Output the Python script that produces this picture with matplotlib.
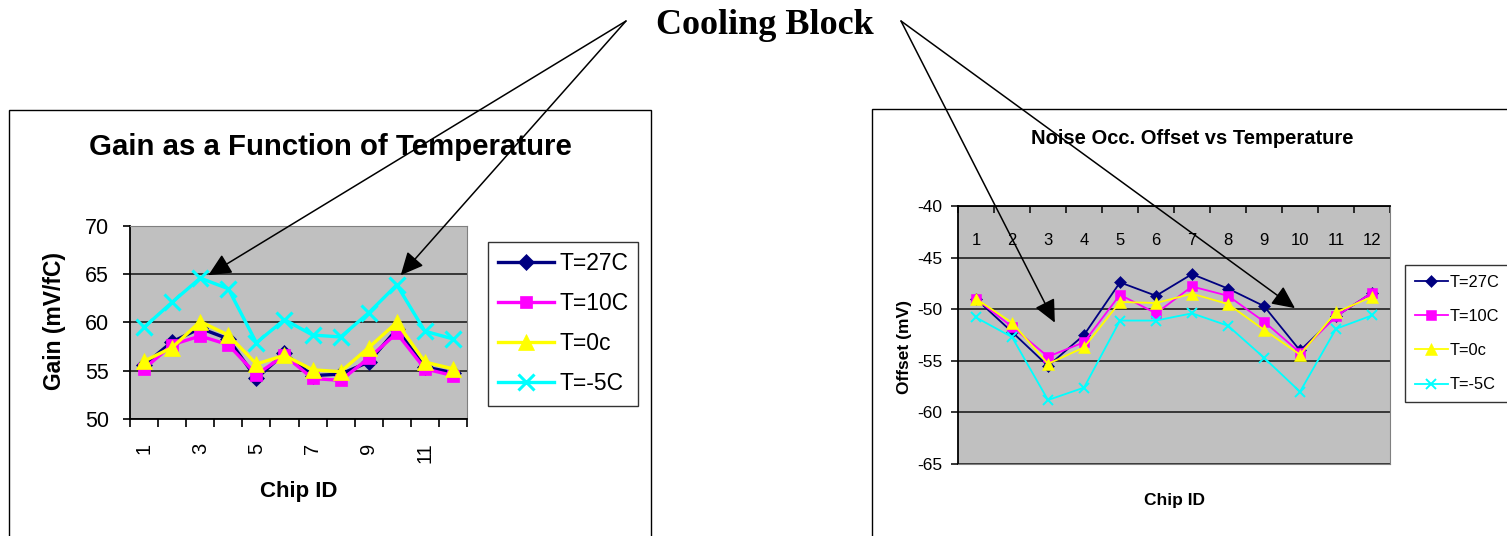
import matplotlib
matplotlib.use("Agg")
import matplotlib.pyplot as plt
from matplotlib.patches import Rectangle
from matplotlib.ticker import FixedLocator

plt.rcParams["axes.unicode_minus"] = False

# ---------------- data ----------------
chip_ids = ["1", "2", "3", "4", "5", "6", "7", "8", "9", "10", "11", "12"]
series_labels = ["T=27C", "T=10C", "T=0c", "T=-5C"]

gain_27 = [55.6, 58.0, 59.4, 58.3, 54.2, 56.8, 54.5, 54.65, 55.9, 59.3, 55.4, 54.8]
gain_10 = [55.2, 57.7, 58.6, 57.7, 54.6, 56.6, 54.2, 54.0, 56.3, 58.9, 55.2, 54.5]
gain_0 = [56.0, 57.4, 60.1, 58.7, 55.7, 56.6, 55.1, 54.9, 57.4, 60.0, 55.9, 55.2]
gain_m5 = [59.5, 62.1, 64.6, 63.5, 57.9, 60.3, 58.7, 58.5, 61.0, 63.9, 59.1, 58.3]

offset_27 = [-49.0, -52.2, -55.5, -52.5, -47.4, -48.7, -46.6, -48.0, -49.7, -54.0, -50.7, -48.4]
offset_10 = [-49.0, -51.7, -54.6, -53.2, -48.6, -50.4, -47.8, -48.7, -51.2, -54.2, -50.7, -48.4]
offset_0 = [-49.0, -51.3, -55.3, -53.7, -49.3, -49.4, -48.5, -49.5, -52.0, -54.4, -50.3, -48.8]
offset_m5 = [-50.8, -52.7, -58.8, -57.6, -51.1, -51.1, -50.4, -51.6, -54.7, -58.0, -51.9, -50.6]

gain_ticks = [50, 55, 60, 65, 70]
offset_ticks = [-65, -60, -55, -50, -45, -40]

# ---------------- styles ----------------
colors = ["#000080", "#FF00FF", "#FFFF00", "#00FFFF"]
markers = ["D", "s", "^", "x"]
SANS = ["Liberation Sans", "DejaVu Sans"]
SERIF = ["Liberation Serif", "DejaVu Serif"]
PLOT_BG = "#C0C0C0"

W, H = 1507, 536
fig = plt.figure(figsize=(W / 100, H / 100), dpi=100)
fig.patch.set_facecolor("white")


def fx(px):
    return px / W


def fy(py):
    return 1 - py / H


def axes_rect(x0, y0, x1, y1):
    return [fx(x0), fy(y1), (x1 - x0) / W, (y1 - y0) / H]


n = len(chip_ids)
xs = list(range(n))

# ---------------- outer chart frames ----------------
fig.add_artist(Rectangle((fx(9), fy(545)), (651 - 9) / W, (545 - 110) / H,
                         transform=fig.transFigure, fill=False,
                         edgecolor="black", lw=1.0))
fig.add_artist(Rectangle((fx(872), fy(545)), (1530 - 872) / W, (545 - 109) / H,
                         transform=fig.transFigure, fill=False,
                         edgecolor="black", lw=1.0))

# ================= LEFT CHART =================
axL = fig.add_axes(axes_rect(130, 226, 467, 419))
axL.set_facecolor(PLOT_BG)
gain_series = [gain_27, gain_10, gain_0, gain_m5]
msizes_L = [8, 9, 11, 11]
for vals, c, m, ms, lab in zip(gain_series, colors, markers, msizes_L, series_labels):
    axL.plot(xs, vals, color=c, marker=m, markersize=ms, lw=2.4,
             markeredgewidth=2.2 if m == "x" else 0.5,
             markeredgecolor=c, label=lab)
axL.set_xlim(-0.5, n - 0.5)
axL.set_ylim(50, 70)
axL.set_yticks(gain_ticks)
axL.yaxis.grid(True, color="#202020", lw=1.2)
axL.set_axisbelow(True)
axL.set_xticks(xs[::2])
axL.set_xticklabels(chip_ids[::2], rotation=90, family=SANS, fontsize=14.5)
axL.xaxis.set_minor_locator(FixedLocator([i - 0.5 for i in range(n + 1)]))
axL.tick_params(axis="x", which="major", length=0, pad=17)
axL.tick_params(axis="x", which="minor", length=6, width=1.2, direction="out")
axL.tick_params(axis="y", which="major", length=5, width=1.2, direction="out",
                pad=10, labelsize=15.5)
for t in axL.get_yticklabels():
    t.set_family(SANS)
axL.spines["left"].set_color("black")
axL.spines["bottom"].set_color("black")
axL.spines["left"].set_linewidth(1.3)
axL.spines["bottom"].set_linewidth(1.3)
axL.spines["top"].set_color("#808080")
axL.spines["right"].set_color("#808080")

legL = axL.legend(loc="upper left", bbox_to_anchor=(fx(488), fy(242)),
                  bbox_transform=fig.transFigure, frameon=True, fancybox=False,
                  edgecolor="black", borderaxespad=0, borderpad=0.45,
                  labelspacing=0.74, handlelength=2.45, handletextpad=0.2,
                  numpoints=1, prop={"family": SANS, "size": 16.5})
legL.get_frame().set_linewidth(1.0)

fig.text(fx(330), fy(147), "Gain as a Function of Temperature", ha="center",
         va="center", family=SANS, weight="bold", fontsize=21.2)
fig.text(fx(54), fy(321), "Gain (mV/fC)", rotation=90, ha="center",
         va="center", family=SANS, weight="bold", fontsize=16.5)
fig.text(fx(299), fy(491), "Chip ID", ha="center", va="center",
         family=SANS, weight="bold", fontsize=16)

# ================= RIGHT CHART =================
axR = fig.add_axes(axes_rect(958, 206, 1390, 464))
axR.set_facecolor(PLOT_BG)
offset_series = [offset_27, offset_10, offset_0, offset_m5]
msizes_R = [6, 6.5, 8, 7.5]
for vals, c, m, ms, lab in zip(offset_series, colors, markers, msizes_R, series_labels):
    axR.plot(xs, vals, color=c, marker=m, markersize=ms, lw=1.3,
             markeredgewidth=1.4 if m == "x" else 0.4,
             markeredgecolor=c, label=lab)
axR.set_xlim(-0.5, n - 0.5)
axR.set_ylim(-65, -40)
axR.set_yticks(offset_ticks)
axR.yaxis.grid(True, color="#202020", lw=1.2)
axR.set_axisbelow(True)
axR.xaxis.set_ticks_position("top")
axR.set_xticks(xs)
axR.set_xticklabels(chip_ids, family=SANS, fontsize=12)
axR.xaxis.set_minor_locator(FixedLocator([i - 0.5 for i in range(n + 1)]))
axR.tick_params(axis="x", which="major", length=0, top=True, bottom=False,
                labeltop=True, labelbottom=False, pad=-30)
axR.tick_params(axis="x", which="minor", length=5, width=1.1, direction="in",
                top=True, bottom=False)
axR.tick_params(axis="y", which="major", length=5, width=1.1, direction="out",
                pad=6, labelsize=12.5)
for t in axR.get_yticklabels():
    t.set_family(SANS)
axR.spines["left"].set_color("black")
axR.spines["top"].set_color("black")
axR.spines["left"].set_linewidth(1.3)
axR.spines["top"].set_linewidth(1.3)
axR.spines["bottom"].set_color("#808080")
axR.spines["right"].set_color("#808080")

legR = axR.legend(loc="upper left", bbox_to_anchor=(fx(1405), fy(265)),
                  bbox_transform=fig.transFigure, frameon=True, fancybox=False,
                  edgecolor="black", borderaxespad=0, borderpad=0.6,
                  labelspacing=1.17, handlelength=2.0, handletextpad=0.15,
                  numpoints=1, prop={"family": SANS, "size": 11.8})
legR.get_frame().set_linewidth(1.0)

fig.text(fx(1192), fy(139), "Noise Occ. Offset vs Temperature", ha="center",
         va="center", family=SANS, weight="bold", fontsize=14.5)
fig.text(fx(905), fy(347), "Offset (mV)", rotation=90, ha="center",
         va="center", family=SANS, weight="bold", fontsize=12.5)
fig.text(fx(1175), fy(500), "Chip ID", ha="center", va="center",
         family=SANS, weight="bold", fontsize=12.5)

# ================= annotation =================
fig.text(fx(765), fy(26), "Cooling Block", ha="center", va="center",
         family=SERIF, weight="bold", fontsize=26)

arrow_kw = dict(arrowstyle="-|>,head_length=0.7,head_width=0.33",
                mutation_scale=20, color="black", lw=1.1,
                shrinkA=0, shrinkB=0)
src_left = (fx(626), fy(21))
src_right = (fx(901), fy(21))
axL.annotate("", xy=(2.29, 64.9), xycoords="data", xytext=src_left,
             textcoords="figure fraction", arrowprops=arrow_kw,
             annotation_clip=False)
axL.annotate("", xy=(9.14, 64.9), xycoords="data", xytext=src_left,
             textcoords="figure fraction", arrowprops=arrow_kw,
             annotation_clip=False)
axR.annotate("", xy=(2.19, -51.3), xycoords="data", xytext=src_right,
             textcoords="figure fraction", arrowprops=arrow_kw,
             annotation_clip=False)
axR.annotate("", xy=(8.86, -49.9), xycoords="data", xytext=src_right,
             textcoords="figure fraction", arrowprops=arrow_kw,
             annotation_clip=False)

fig.savefig("out.png", dpi=100)
